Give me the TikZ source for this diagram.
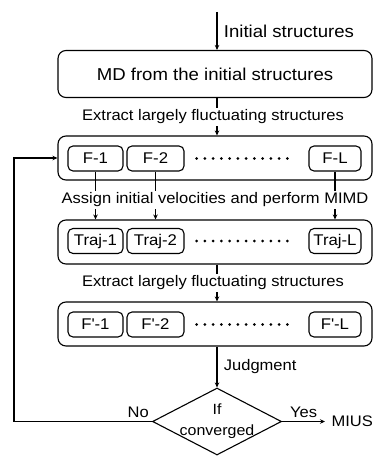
\documentclass[tikz,border=0pt]{standalone}
\usepackage{fontspec}
\setmainfont{Liberation Sans}[FakeStretch=1.08]
\usetikzlibrary{shapes.geometric,arrows.meta,positioning}

\begin{document}
\begin{tikzpicture}[x=1pt,y=-1pt,line width=1.1pt,
    >={Stealth[length=5pt,width=4.5pt]},
    stage/.style={draw,rounded corners=8pt,minimum width=314pt,inner sep=0pt},
    item/.style={draw,rounded corners=5pt,minimum height=25pt,inner sep=0pt,font=\fontsize{15.5}{18}\selectfont},
    note/.style={font=\fontsize{15.3}{18}\selectfont},
    gap/.style={note,fill=white,inner sep=2pt},
    dotrow/.style={line width=3pt,line cap=round,dash pattern=on 0pt off 8.25pt},
    decision/.style={draw,diamond,aspect=1.93,inner sep=-3pt,align=center,font=\fontsize{14.8}{21}\selectfont}]
  \useasboundingbox (0,0) rectangle (382,457);
  \coordinate (start) at (217,12);
  \coordinate (loop) at (14,158);
  \node[stage,minimum height=47pt,font=\fontsize{17.2}{20}\selectfont] (md) at (215,74) {MD from the initial structures};
  \node[stage,minimum height=44pt] (fbox) at (215,158) {};
    \node[item,minimum width=55pt] (f1) at (95.5,158.5) {F-1};
    \node[item,minimum width=57pt] (f2) at (155.5,158.5) {F-2};
    \node[item,minimum width=52pt] (fL) at (335,158.5) {F-L};
  \node[stage,minimum height=44pt] (tbox) at (215,242) {};
    \node[item,minimum width=55pt] (t1) at (95.5,241) {Traj-1};
    \node[item,minimum width=57pt] (t2) at (155.5,241) {Traj-2};
    \node[item,minimum width=52pt] (tL) at (335,241) {Traj-L};
  \node[stage,minimum height=44pt] (gbox) at (215,324) {};
    \node[item,minimum width=55pt] (g1) at (95.5,324.5) {F\textquotesingle-1};
    \node[item,minimum width=57pt] (g2) at (155.5,324.5) {F\textquotesingle-2};
    \node[item,minimum width=52pt] (gL) at (335,324.5) {F\textquotesingle-L};
  \node[decision,minimum width=129pt,minimum height=67pt] (conv) at (217,421.5) {If\\converged};
  \node[note,anchor=west,inner xsep=6pt] (mius) at (325,421.5) {MIUS};

  \draw[dotrow] ([xshift=12pt]f2.east) -- ([xshift=-14pt]fL.west);
  \draw[dotrow] ([xshift=12pt]t2.east) -- ([xshift=-14pt]tL.west);
  \draw[dotrow] ([xshift=12pt]g2.east) -- ([xshift=-14pt]gL.west);

  \draw[->] (start) -- node[note,right=3pt,font=\fontsize{17.2}{20}\selectfont] {Initial structures} (start |- md.north);
  \draw[->] (start |- md.south) -- node[gap,xshift=-4pt] {Extract largely fluctuating structures} (start |- fbox.north);
  \draw[->] (f1) -- (f1 |- tbox.north);
  \draw[->] (f2) -- (f2 |- tbox.north);
  \draw[->] (fL) -- (fL |- tbox.north);
  \node[gap] (assign) at (215,200) {Assign initial velocities and perform MIMD};
  \draw[->] (start |- tbox.south) -- node[gap,xshift=-4pt] {Extract largely fluctuating structures} (start |- gbox.north);
  \draw[->] (start |- gbox.south) -- node[note,right=3pt] {Judgment} (conv.north);
  \draw[->] (conv.east) -- node[note,above] {Yes} (mius.west);
  \draw[->] (conv.west) -- node[note,above,pos=0.1] {No} (conv.west -| loop) |- (fbox.west);
\end{tikzpicture}
\end{document}
